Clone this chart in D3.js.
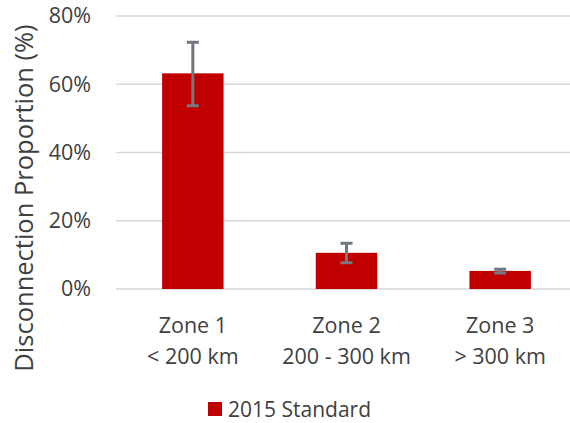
<!DOCTYPE html>
<html>
<head>
<meta charset="utf-8">
<script src="https://cdn.jsdelivr.net/npm/d3@7"></script>
<style>
  html, body { margin: 0; padding: 0; background: #fff; }
  svg { display: block; }
  text { font-family: "Open Sans", "Noto Sans", sans-serif; fill: #404040; }
</style>
</head>
<body>
<svg id="chart" width="570" height="423"></svg>
<script>
// Disconnection proportion by distance zone (2015 Standard)
const zoneNames = ["Zone 1", "Zone 2", "Zone 3"];
const zoneRanges = ["< 200 km", "200 - 300 km", "> 300 km"];
const proportion = [0.632, 0.106, 0.053];
const errLow = [0.095, 0.029, 0.006];
const errHigh = [0.091, 0.028, 0.005];
const yTicks = [0, 0.2, 0.4, 0.6, 0.8];
const seriesName = "2015 Standard";

const svg = d3.select("#chart");
const plotLeft = 116, plotRight = 577, plotTop = 16, plotBottom = 289;

const x = d3.scaleBand().domain(zoneNames).range([plotLeft, plotRight]).paddingInner(0.6).paddingOuter(0.3);
const y = d3.scaleLinear().domain([0, 0.8]).range([plotBottom, plotTop]);

// gridlines
svg.append("g").selectAll("line").data(yTicks).join("line")
  .attr("x1", plotLeft).attr("x2", 570)
  .attr("y1", d => y(d)).attr("y2", d => y(d))
  .attr("stroke", "#d9d9d9").attr("stroke-width", 1.5);

// y axis labels
const yAxis = d3.axisLeft(y).tickValues(yTicks).tickFormat(d3.format(".0%")).tickSize(0).tickPadding(0);
const yg = svg.append("g").attr("transform", `translate(${plotLeft - 25},0)`).call(yAxis);
yg.select(".domain").remove();
yg.selectAll("text").attr("font-size", 21.5).attr("fill", "#404040")
  .style("font-family", '"Open Sans", "Noto Sans", sans-serif');

// bars
const data = zoneNames.map((z, i) => ({ z, v: proportion[i], lo: proportion[i] - errLow[i], hi: proportion[i] + errHigh[i] }));
svg.append("g").selectAll("rect").data(data).join("rect")
  .attr("x", d => x(d.z)).attr("width", x.bandwidth())
  .attr("y", d => y(d.v)).attr("height", d => y(0) - y(d.v))
  .attr("fill", "#c00000");

// error bars
const eb = svg.append("g").attr("stroke", "#717880").attr("stroke-width", 3).attr("fill", "none");
data.forEach(d => {
  const cx = x(d.z) + x.bandwidth() / 2;
  eb.append("line").attr("x1", cx).attr("x2", cx).attr("y1", y(d.hi)).attr("y2", y(d.lo));
  eb.append("line").attr("x1", cx - 6).attr("x2", cx + 6).attr("y1", y(d.hi)).attr("y2", y(d.hi));
  eb.append("line").attr("x1", cx - 6).attr("x2", cx + 6).attr("y1", y(d.lo)).attr("y2", y(d.lo));
});

// x category labels (two lines)
const xl = svg.append("g");
zoneNames.forEach((z, i) => {
  const cx = x(z) + x.bandwidth() / 2;
  const t = xl.append("text").attr("text-anchor", "middle").attr("font-size", 21.5);
  t.append("tspan").attr("x", cx).attr("y", 333).text(z);
  t.append("tspan").attr("x", cx).attr("y", 364).text(zoneRanges[i]);
});

// y axis title
svg.append("text")
  .attr("transform", `translate(33,198) rotate(-90)`)
  .attr("text-anchor", "middle").attr("font-size", 25.5)
  .text("Disconnection Proportion (%)");

// legend
const lg = svg.append("g").attr("transform", "translate(208,402)");
lg.append("rect").attr("width", 14).attr("height", 14).attr("fill", "#c00000");
lg.append("text").attr("x", 20).attr("y", 15).attr("font-size", 21).text(seriesName);
</script>
</body>
</html>
